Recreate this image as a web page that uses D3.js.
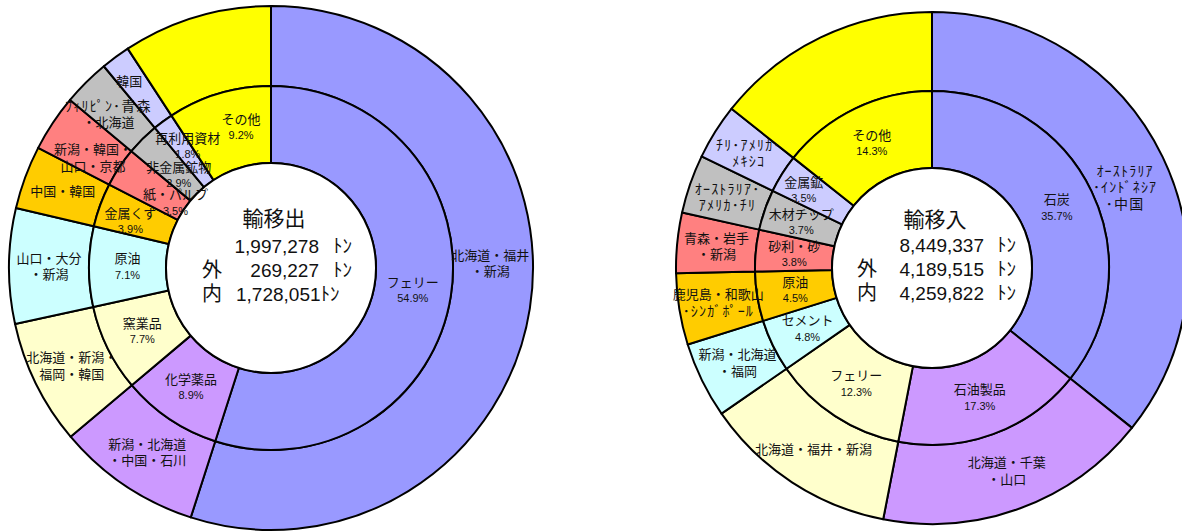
<!DOCTYPE html>
<html><head><meta charset="utf-8">
<script src="https://cdn.jsdelivr.net/npm/d3@7"></script>
<style>
html,body{margin:0;padding:0;background:#fff;}
svg{display:block;}
text{font-family:"Liberation Sans","Noto Sans CJK JP",sans-serif;fill:#111;}
</style></head>
<body>
<svg id="c" width="1182" height="532"></svg>
<script>
// ---- data ----
const colors = ["#9999FF","#CC99FF","#FFFFCC","#CCFFFF","#FFCC00","#FF8080","#C0C0C0","#CCCCFF","#FFFF00"];

const outTitle = "輸移出";
const outCats = ["フェリー","化学薬品","窯業品","原油","金属くず","紙・パルプ","非金属鉱物","再利用資材","その他"];
const outPct = [54.9,8.9,7.7,7.1,3.9,3.5,2.9,1.8,9.2];
const outOrigins = ["北海道・福井\n・新潟","新潟・北海道\n・中国・石川","北海道・新潟・\n福岡・韓国","山口・大分\n・新潟","中国・韓国","新潟・韓国・\n山口・京都","ﾌｨﾘﾋﾟﾝ･青森\n・北海道","韓国",""];
const outTotals = ["1,997,278","269,227","1,728,051"];

const inTitle = "輸移入";
const inCats = ["石炭","石油製品","フェリー","セメント","原油","砂利・砂","木材チップ","金属鉱","その他"];
const inPct = [35.7,17.3,12.3,4.8,4.5,3.8,3.7,3.5,14.3];
const inOrigins = ["ｵｰｽﾄﾗﾘｱ\n･ｲﾝﾄﾞﾈｼｱ\n･中国","北海道・千葉\n・山口","北海道・福井・新潟","新潟・北海道\n・福岡","鹿児島・和歌山\n･ｼﾝｶﾞﾎﾟｰﾙ","青森・岩手\n・新潟","ｵｰｽﾄﾗﾘｱ･\nｱﾒﾘｶ･ﾁﾘ","ﾁﾘ･ｱﾒﾘｶ･\nﾒｷｼｺ",""];
const inTotals = ["8,449,337","4,189,515","4,259,822"];

const rowPrefix = ["","外","内"];
const unit = "ﾄﾝ";

// ---- layout (not data) ----
const charts = [
  {cats:outCats, pct:outPct, origins:outOrigins, totals:outTotals, title:outTitle,
   cx:271, cy:268, R:262, Rm:182, Ri:105,
   pfx:-69, numR:48, unitX:62, joinedStart:-35, titleBase:226, rowBase:[253,277,301],
   nudgeIn:{4:[-6,3],5:[24,14],6:[9,9],7:[2,-6],8:[11,-3]},
   nudgeOut:{0:[0,-39],5:[7,13],6:[-6,4],7:[-10,-8]}},
  {cats:inCats, pct:inPct, origins:inOrigins, totals:inTotals, title:inTitle,
   cx:932, cy:268, R:256, Rm:177, Ri:100,
   pfx:-75, numR:52, unitX:65, joinedStart:null, titleBase:227, rowBase:[252,276,300],
   nudgeIn:{7:[-11,-4]},
   nudgeOut:{0:[-2,13]}}
];

const svg = d3.select("#c");
const hw = /[\uFF61-\uFF9F]/;

charts.forEach(ch => {
  const g = svg.append("g").attr("transform", `translate(${ch.cx},${ch.cy})`);
  const pie = d3.pie().sort(null).value(d => d).startAngle(0).endAngle(2*Math.PI);
  const arcs = pie(ch.pct);
  const outerArc = d3.arc().innerRadius(ch.Rm).outerRadius(ch.R);
  const innerArc = d3.arc().innerRadius(ch.Ri).outerRadius(ch.Rm);

  g.selectAll("path.o").data(arcs).join("path").attr("class","o")
    .attr("d", outerArc).attr("fill",(d,i)=>colors[i])
    .attr("stroke","#000").attr("stroke-width",2).attr("stroke-linejoin","round");
  g.selectAll("path.i").data(arcs).join("path").attr("class","i")
    .attr("d", innerArc).attr("fill",(d,i)=>colors[i])
    .attr("stroke","#000").attr("stroke-width",2).attr("stroke-linejoin","round");
  g.append("circle").attr("r", ch.Ri).attr("fill","#fff").attr("stroke","#000").attr("stroke-width",2);

  // inner labels
  arcs.forEach((a,i) => {
    const [x,y] = innerArc.centroid(a);
    const n = ch.nudgeIn[i] || [0,0];
    const t = g.append("text").attr("text-anchor","middle")
      .attr("transform",`translate(${x+n[0]},${y+n[1]})`);
    t.append("tspan").attr("x",0).attr("y",-8).attr("dominant-baseline","central")
      .style("font-size","13px").text(ch.cats[i]);
    t.append("tspan").attr("x",0).attr("y",8).attr("dominant-baseline","central")
      .style("font-size","11px").text(ch.pct[i].toFixed(1)+"%");
  });
  // outer labels
  arcs.forEach((a,i) => {
    const s = ch.origins[i];
    if (!s) return;
    const lines = s.split("\n");
    const [x,y] = outerArc.centroid(a);
    const n = ch.nudgeOut[i] || [0,0];
    const lh = 16.5;
    const t = g.append("text").attr("text-anchor","middle")
      .attr("transform",`translate(${x+n[0]},${y+n[1]})`)
      .style("font-size","13px");
    lines.forEach((ln,k) => {
      const isHw = hw.test(ln);
      t.append("tspan").attr("x",0).attr("y",(k-(lines.length-1)/2)*lh)
        .attr("dominant-baseline","central")
        .style("font-size", isHw ? "14px" : null)
        .style("letter-spacing", isHw ? "1.2px" : null)
        .text(ln);
    });
  });

  // center text
  const c = svg.append("g").attr("transform",`translate(${ch.cx},0)`);
  c.append("text").attr("x",3).attr("y",ch.titleBase).attr("text-anchor","middle")
    .style("font-size","21px").text(ch.title);
  ch.totals.forEach((v,k) => {
    const yb = ch.rowBase[k];
    if (rowPrefix[k]) c.append("text").attr("x",ch.pfx).attr("y",yb).style("font-size","20px").text(rowPrefix[k]);
    if (ch.joinedStart !== null && k===2) {
      c.append("text").attr("x",ch.joinedStart).attr("y",yb).style("font-size","19px")
        .text(v + unit);
    } else {
      c.append("text").attr("x",ch.numR).attr("y",yb).attr("text-anchor","end").style("font-size","19px").text(v);
      c.append("text").attr("x",ch.unitX).attr("y",yb).style("font-size","19px").text(unit);
    }
  });
});
</script>
</body></html>
